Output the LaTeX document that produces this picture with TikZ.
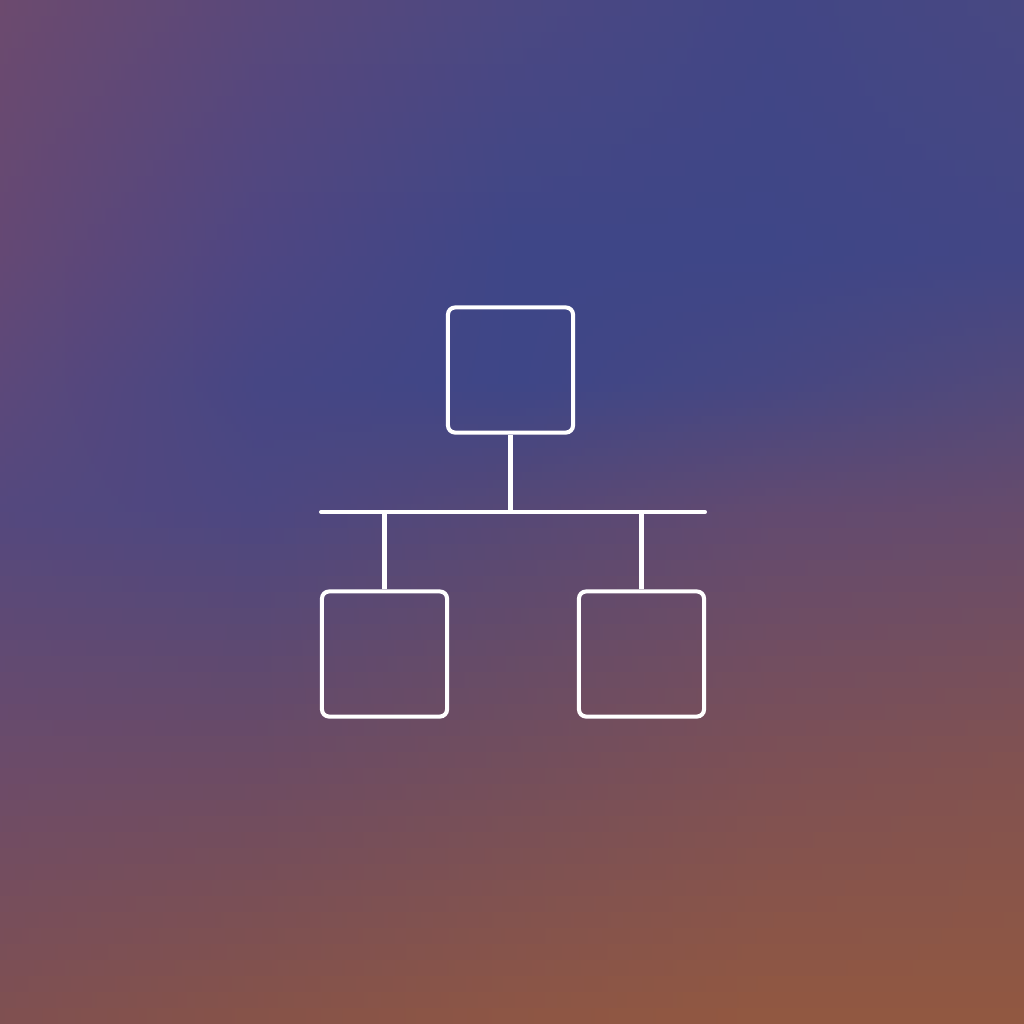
\documentclass[tikz,border=0pt]{standalone}
\begin{document}
\begin{tikzpicture}[x=0.01cm,y=-0.01cm]
% colour grid: g<row><col>, rows y=0,256,384,512,768,1024; cols x=0,256,512,768,1024
\definecolor{g00}{RGB}{108,74,110}\definecolor{g01}{RGB}{90,72,122}\definecolor{g02}{RGB}{76,72,130}\definecolor{g03}{RGB}{66,70,133}\definecolor{g04}{RGB}{72,72,130}
\definecolor{g10}{RGB}{100,72,116}\definecolor{g11}{RGB}{78,70,130}\definecolor{g12}{RGB}{62,70,135}\definecolor{g13}{RGB}{62,70,135}\definecolor{g14}{RGB}{66,70,133}
\definecolor{g20}{RGB}{92,72,122}\definecolor{g21}{RGB}{70,70,132}\definecolor{g22}{RGB}{62,70,135}\definecolor{g23}{RGB}{70,71,130}\definecolor{g24}{RGB}{82,73,122}
\definecolor{g30}{RGB}{84,72,126}\definecolor{g31}{RGB}{76,71,129}\definecolor{g32}{RGB}{86,72,118}\definecolor{g33}{RGB}{98,74,112}\definecolor{g34}{RGB}{102,75,108}
\definecolor{g40}{RGB}{108,75,105}\definecolor{g41}{RGB}{108,75,100}\definecolor{g42}{RGB}{115,78,92}\definecolor{g43}{RGB}{125,80,85}\definecolor{g44}{RGB}{130,82,80}
\definecolor{g50}{RGB}{128,80,80}\definecolor{g51}{RGB}{135,83,72}\definecolor{g52}{RGB}{142,86,68}\definecolor{g53}{RGB}{146,88,64}\definecolor{g54}{RGB}{145,88,65}
\tikzset{
  boxnode/.style={draw=white, line width=1.15pt, rounded corners=2pt, minimum width=1.25cm, minimum height=1.25cm, inner sep=0pt},
  wire/.style={draw=white, line width=1.15pt},
  bar/.style={draw=white, line width=1.15pt, line cap=round}
}
\useasboundingbox (0,0) rectangle (1024,1024);
\begin{scope}
\clip (0,0) rectangle (1024,1024);
\foreach \i/\yo/\h in {0/0/256, 1/256/128, 2/384/128, 3/512/256, 4/768/256}{
  \pgfmathtruncatemacro\ii{\i+1}
  \foreach \s in {0,...,15}{
    \pgfmathsetmacro\fr{100*(\s+0.5)/16}
    \pgfmathsetmacro\ya{\yo+\h/16*\s}
    \pgfmathsetmacro\yb{\ya+\h/16+0.6}
    \colorlet{m0}{g\ii0!\fr!g\i0}
    \colorlet{m1}{g\ii1!\fr!g\i1}
    \colorlet{m2}{g\ii2!\fr!g\i2}
    \colorlet{m3}{g\ii3!\fr!g\i3}
    \colorlet{m4}{g\ii4!\fr!g\i4}
    \shade[left color=m0, right color=m1] (0,\ya) rectangle (256.6,\yb);
    \shade[left color=m1, right color=m2] (256,\ya) rectangle (512.6,\yb);
    \shade[left color=m2, right color=m3] (512,\ya) rectangle (768.6,\yb);
    \shade[left color=m3, right color=m4] (768,\ya) rectangle (1024,\yb);
  }
}
\end{scope}
\node[boxnode] (top) at (510.5,370) {};
\node[boxnode] (left) at (384.5,654) {};
\node[boxnode] (right) at (641.5,654) {};
\coordinate (bl) at (321,512);
\coordinate (br) at (705,512);
\draw[bar] (bl) -- (br);
\draw[wire] (top.south) -- (top.south |- bl);
\draw[wire] (left.north) -- (left.north |- bl);
\draw[wire] (right.north) -- (right.north |- bl);
\end{tikzpicture}
\end{document}
